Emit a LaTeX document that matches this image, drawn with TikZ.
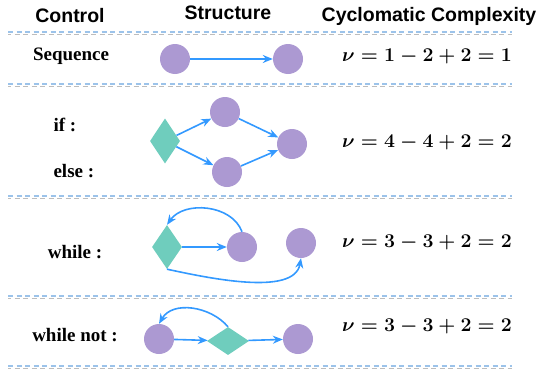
\RequirePackage{fix-cm}
\documentclass[tikz,border=0pt]{standalone}
\usepackage{amsmath}
\usepackage{fontspec}
\newfontfamily\headfont{Liberation Sans}
\newfontfamily\labfont{Liberation Serif}
\usepackage{tikz}
\usetikzlibrary{arrows.meta,shapes.geometric}
\definecolor{nodepurple}{HTML}{AC99D2}
\definecolor{nodeteal}{HTML}{6FCDBD}
\definecolor{arrowblue}{HTML}{3399FF}
\definecolor{sepblue}{HTML}{9CC3EA}
\definecolor{sepgray}{HTML}{BDBDBD}
\tikzset{
	vert/.style={circle,fill=nodepurple,minimum size=30pt,inner sep=0pt},
	cond/.style={diamond,fill=nodeteal,inner sep=0pt},
	flow/.style={draw=arrowblue,line width=1.6pt,-{Stealth[length=10pt,width=8pt]}},
	head/.style={font=\headfont\bfseries\fontsize{19.5}{22}\selectfont},
	ctrl/.style={font=\labfont\bfseries\fontsize{19}{21}\selectfont},
	cc/.style={font=\fontsize{19.5}{22}\selectfont\boldmath},
	sepa/.style={sepblue,line width=1.4pt,dash pattern=on 5pt off 3.5pt},
	sepb/.style={sepgray,line width=1.4pt,dash pattern=on 5pt off 3.5pt,dash phase=2pt}
}

\begin{document}
\begin{tikzpicture}[x=1pt,y=-1pt]
			\useasboundingbox (0,0) rectangle (545,372);
			\node[head] (hctrl) at (70,16) {Control};
			\node[head] (hstr) at (228,13) {Structure};
			\node[head] (hcc) at (429,16) {Cyclomatic Complexity};
			\foreach \y in {32,84,196,296,366} {
				\draw[sepa] (8,\y) -- (512,\y);
				\draw[sepb] (8,\y+2.5) -- (512,\y+2.5);
			}
			\node[ctrl] (seq) at (71,56) {Sequence};
			\node[vert] (s1) at (175,59) {};
			\node[vert] (s2) at (288,59) {};
			\draw[flow] (s1) -- (s2);
			\node[cc] (cc1) at (427,57) {$\nu = 1 - 2 + 2 = 1$};
			\node[ctrl,anchor=west] (ifl) at (50,125) {if :};
			\node[ctrl,anchor=west] (elsel) at (50,171) {else :};
			\node[cond,minimum width=30pt,minimum height=45pt] (d2) at (165,141) {};
			\node[vert] (t2) at (225,112) {};
			\node[vert] (b2) at (227,172) {};
			\node[vert] (r2) at (292,144) {};
			\draw[flow] (d2) -- (t2);
			\draw[flow] (d2) -- (b2);
			\draw[flow] (t2) -- (r2);
			\draw[flow] (b2) -- (r2);
			\node[cc] (cc2) at (427,143) {$\nu = 4 - 4 + 2 = 2$};
			\node[ctrl] (whl) at (75,252) {while :};
			\node[cond,minimum width=30pt,minimum height=44pt] (d3) at (167,247) {};
			\node[vert] (m3) at (242,247) {};
			\node[vert] (r3) at (301,243) {};
			\draw[flow] (d3) -- (m3);
			\draw[flow] (m3.north) to[out=110,in=55] (d3.north);
			\draw[flow] (d3.south) to[out=-12,in=-100,looseness=0.75] (r3.south);
			\node[cc] (cc3) at (427,243) {$\nu = 3 - 3 + 2 = 2$};
			\node[ctrl] (wnl) at (75,335) {while not :};
			\node[vert] (l4) at (159,339) {};
			\node[cond,minimum width=42pt,minimum height=28pt] (d4) at (228,341) {};
			\node[vert] (r4) at (298,339) {};
			\draw[flow] (l4) -- (d4);
			\draw[flow] (d4) -- (r4);
			\draw[flow] (d4.north) to[out=130,in=60] (l4.north);
			\node[cc] (cc4) at (427,327) {$\nu = 3 - 3 + 2 = 2$};
\end{tikzpicture}
\end{document}
